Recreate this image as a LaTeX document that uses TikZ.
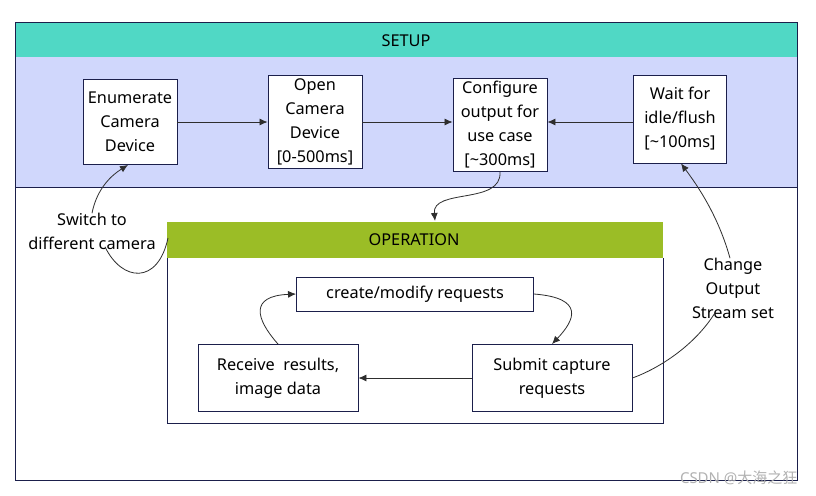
\documentclass[tikz,border=0pt]{standalone}
\usepackage{fontspec}
\setmainfont{Noto Sans}
\newfontfamily\cjkfont{Noto Sans CJK SC}
\usetikzlibrary{calc,arrows.meta}

\definecolor{setupteal}{HTML}{50D8C5}
\definecolor{setupfill}{HTML}{D0D7FC}
\definecolor{opgreen}{HTML}{9BBD26}
\definecolor{framenavy}{HTML}{1B1F4B}
\definecolor{linegray}{HTML}{2E2E2E}

\tikzset{
	stepbox/.style={draw=framenavy, fill=white, line width=0.9pt, align=center,
		inner sep=1pt, font=\fontsize{16.3}{24}\selectfont},
	lbl/.style={align=center, font=\fontsize{16.3}{24}\selectfont},
	flow/.style={draw=linegray, line width=0.8pt, -{Latex[length=8pt,width=7pt]}},
	link/.style={draw=linegray, line width=0.8pt},
}

\begin{document}
\begin{tikzpicture}[x=1pt, y=-1pt]
	\useasboundingbox (0,0) rectangle (816,495);
	% setup frame
	\fill[white] (15,22) rectangle (797,480);
	\fill[setupteal] (15,22) rectangle (797,57);
	\fill[setupfill] (15,57) rectangle (797,187);
	\draw[framenavy, line width=0.9pt] (15,187) -- (797,187);
	\draw[framenavy, line width=0.9pt] (15,22) rectangle (797,480);
	\node[lbl] (setup) at (406,41) {SETUP};

	% setup steps
	\node[stepbox, minimum width=94pt, minimum height=85pt] (enum) at (130,122) {Enumerate\\Camera\\Device};
	\node[stepbox, minimum width=94pt, minimum height=93pt] (open) at (315,122) {Open\\Camera\\Device\\{[}0-500ms{]}};
	\node[stepbox, minimum width=94pt, minimum height=93pt] (config) at (500,125) {Configure\\output for\\use case\\{[}\textasciitilde 300ms{]}};
	\node[stepbox, minimum width=93pt, minimum height=88pt] (wait) at (680,119) {Wait for\\idle/flush\\{[}\textasciitilde 100ms{]}};

	\draw[flow] (enum.east) -- (enum.east -| open.west);
	\draw[flow] (open.east |- enum.east) -- (config.west |- enum.east);
	\draw[flow] (wait.west |- enum.east) -- (config.east |- enum.east);

	% operation frame
	\fill[white] (167,222) rectangle (663,423);
	\fill[opgreen] (167,222) rectangle (663,258);
	\draw[framenavy, line width=0.9pt] (167,258) -- (167,423) -- (663,423) -- (663,258);
	\node[lbl] (oper) at (414,240) {OPERATION};
	\coordinate (opleft) at (168,238);
	\coordinate (optop) at (435,221);

	% operation steps
	\node[stepbox, minimum width=237pt, minimum height=34pt] (create) at (415,294) {create/modify requests};
	\node[stepbox, minimum width=160pt, minimum height=67pt] (receive) at (278,378) {Receive\ \ results,\\image data};
	\node[stepbox, minimum width=160pt, minimum height=67pt] (submit) at (552,378) {Submit capture\\requests};

	\draw[flow] (submit.west) -- (receive.east);
	\draw[flow] (receive.north) .. controls (255,318) and (250,296) .. (create.west);
	\draw[flow] (create.east) .. controls (585,298) and (575,320) .. (submit.north);
	\draw[flow] (config.south) .. controls (502,205) and (432,188) .. (optop);

	% side labels
	\node[lbl] (switch) at (92,231) {Switch to\\different camera};
	\node[lbl] (change) at (733,288) {Change\\Output\\Stream set};

	\draw[flow] ($(switch.north)+(0,4)$) .. controls (97,188) and (112,175) .. ($(enum.south)+(-2,0)$);
	\draw[link] ($(switch.south)+(13,-6)$) .. controls (122,282) and (158,285) .. (opleft);
	\draw[flow] ($(change.north)+(-3,4)$) .. controls (718,215) and (697,185) .. ($(wait.south)+(1,0)$);
	\draw[link] ($(change.south)+(-18,-9)$) .. controls (695,345) and (660,368) .. (submit.east);

	% watermark
	\node[text=black!30, font=\fontsize{15}{17}\selectfont, anchor=east] (mark) at (801,478) {CSDN @{\cjkfont 大海之狂}};
\end{tikzpicture}
\end{document}
